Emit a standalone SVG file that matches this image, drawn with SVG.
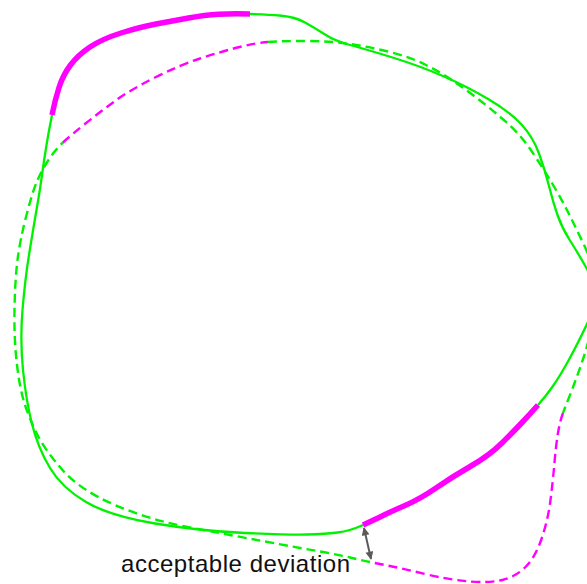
<svg xmlns="http://www.w3.org/2000/svg" width="587" height="584" viewBox="0 0 587 584">
<style>
.g{fill:none;stroke:#00f200;stroke-width:2.3}
.m{fill:none;stroke:#ff00ff;stroke-width:5.5;stroke-linecap:butt}
.gd{fill:none;stroke:#00f200;stroke-width:2.4;stroke-dasharray:9 5}
.md{fill:none;stroke:#ff00ff;stroke-width:2.4;stroke-dasharray:9 5}
.lbl{font-family:"Liberation Sans",Arial,sans-serif;font-size:24px;fill:#111}
</style>
<defs>
<marker id="ah" viewBox="0 0 10 10" refX="9" refY="5" markerWidth="4.5" markerHeight="4" orient="auto-start-reverse" markerUnits="strokeWidth">
<path d="M0,0 L10,5 L0,10 Z" fill="#5a5a5a"/>
</marker>
</defs>
<g id="reference-contour">
<path class="gd" d="M 370 562 Q 360 560 350 557.5 Q 340 555 320 551.5 Q 300 548 265 541.5 Q 230 535 190 527.5 Q 150 520 115 505 Q 80 490 62.5 470 Q 45 450 37.5 435 Q 30 420 25 405 Q 20 390 17 365 Q 14 340 14.5 310 Q 15 280 17.5 260 Q 20 240 26.5 215 Q 33 190 37.5 180 Q 42 170 48.5 160 Q 55 150 63 142.5"/>
<path class="md" d="M 63 142.5 Q 71 135 85.5 123.5 Q 100 112 115 101 Q 130 90 155 77.5 Q 180 65 200 58.5 Q 220 52 237.5 47.5 Q 255 43 268 42"/>
<path class="gd" d="M 268 42 Q 281 41 305.5 41 Q 330 41 350 44 Q 370 47 390 52 Q 410 57 425 64.5 Q 440 72 452.5 80.5 Q 465 89 477.5 98.5 Q 490 108 505 121 Q 520 134 531.5 151 Q 543 168 552.5 184 Q 562 200 569.5 215 Q 577 230 584.5 246 Q 592 262 595 281 Q 598 300 593 322.5 Q 588 345 581 365 Q 574 385 570 395 Q 566 405 563 413"/>
<path class="md" d="M 563 413 Q 560 421 558 433 Q 556 445 554.5 462.5 Q 553 480 550.5 500 Q 548 520 541.5 539 Q 535 558 525 567.5 Q 515 577 502.5 580 Q 490 583 470 581.5 Q 450 580 425 574 Q 400 568 390 566 Q 380 564 370 562"/>
</g>
<g id="measured-contour">
<path class="g" d="M 250 14 Q 268 14.5 281.5 15.75 Q 295 17 305 22.5 Q 315 28 325 34.5 Q 335 41 350 45 Q 365 49 392.5 57.5 Q 420 66 444 76.5 Q 468 87 489 99.5 Q 510 112 521.5 124.5 Q 533 137 539 153.5 Q 545 170 549 186 Q 553 202 557.5 215 Q 562 228 570 240.5 Q 578 253 587 269 Q 596 285 596 295 Q 596 305 586.5 325 Q 577 345 568.5 360.5 Q 560 376 553 386 Q 546 396 538 405"/>
<path class="g" d="M 363 525 Q 350 531 337.5 532.5 Q 325 534 307.5 534.5 Q 290 535 245 533 Q 200 531 155 523.5 Q 110 516 86 502 Q 62 488 50 468 Q 38 448 32 424 Q 26 400 23 370 Q 20 340 22.5 310 Q 25 280 29 255 Q 33 230 36.5 210 Q 40 190 42 175 Q 44 160 46.5 145 Q 49 130 52 115"/>
<path class="m" d="M 52 115 Q 55 100 59 87.5 Q 63 75 70.5 65 Q 78 55 90 47 Q 102 39 121 33 Q 140 27 156 24 Q 172 21 188.5 18 Q 205 15 218.5 14.25 Q 232 13.5 250 14"/>
<path class="m" d="M 538 405 Q 530 414 522.5 422 Q 515 430 502.5 442.5 Q 490 455 471 466 Q 452 477 436 488 Q 420 499 405 505.5 Q 390 512 383 515.5 Q 376 519 363 525"/>
</g>
<g id="connectors">
<line x1="364" y1="528" x2="371" y2="559" stroke="#5a5a5a" stroke-width="2" marker-start="url(#ah)" marker-end="url(#ah)"/>
</g>
<g id="label">
<text class="lbl" x="121" y="572" textLength="229" lengthAdjust="spacing">acceptable deviation</text>
</g>
</svg>
